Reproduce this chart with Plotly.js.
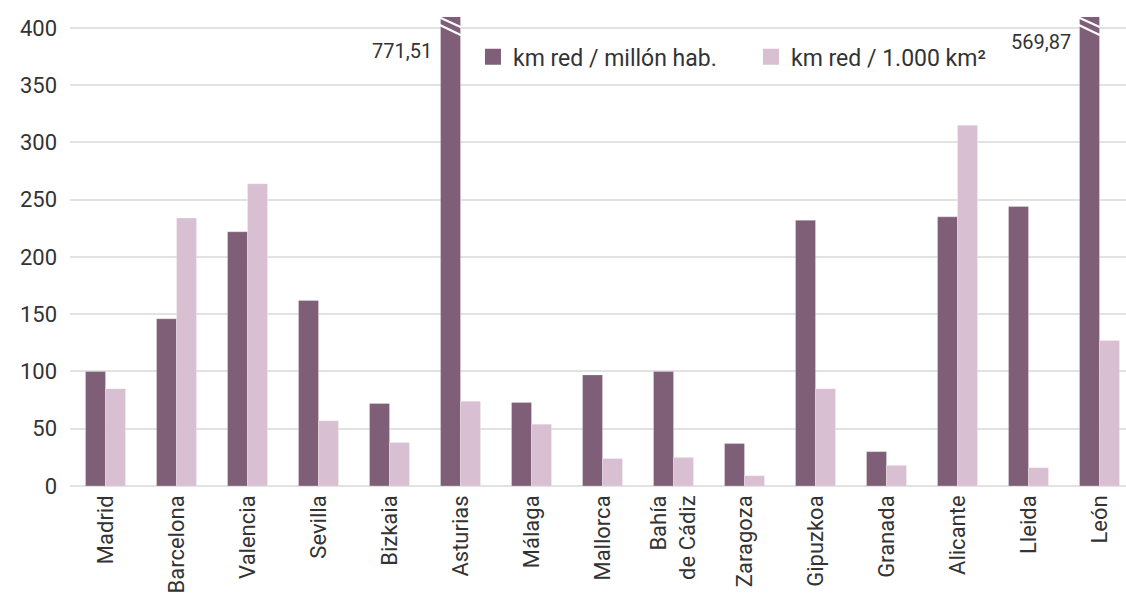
<!DOCTYPE html>
<html>
<head>
<meta charset="utf-8">
<script src="https://cdn.plot.ly/plotly-3.0.1.min.js"></script>
<style>html,body{margin:0;padding:0;background:#fff;}#chart{width:1126px;height:604px;}</style>
</head>
<body>
<div id="chart"></div>
<script>
const categories = ["Madrid","Barcelona","Valencia","Sevilla","Bizkaia","Asturias","Málaga","Mallorca","Bahía<br>de Cádiz","Zaragoza","Gipuzkoa","Granada","Alicante","Lleida","León"];
const kmPorMillonHab = [100, 146, 222, 162, 72, 771.51, 73, 97, 100, 37, 232, 30, 235, 244, 569.87];
const kmPor1000km2 = [85, 234, 264, 57, 38, 74, 54, 24, 25, 9, 85, 18, 315, 16, 127];
const seriesNames = ["km red / millón hab.", "km red / 1.000 km²"];
const brokenLabels = ["771,51", "569,87"];
const yTicks = [0, 50, 100, 150, 200, 250, 300, 350, 400];
const yMax = 409.5;

const purple = "#7f5f78";
const pink = "#d9bfd2";
const bargap = 0.437;
const xIdx = categories.map((c, i) => i);
const FONT = "Roboto, sans-serif";

const traces = [
  {type: "bar", x: xIdx, y: kmPorMillonHab, name: seriesNames[0], marker: {color: purple, line: {color: "rgba(255,255,255,0.5)", width: 0.5}}, showlegend: false, hoverinfo: "y"},
  {type: "bar", x: xIdx, y: kmPor1000km2, name: seriesNames[1], marker: {color: pink, line: {color: "rgba(255,255,255,0.5)", width: 0.5}}, showlegend: false, hoverinfo: "y"},
  {type: "scatter", mode: "markers", x: [null], y: [null], name: seriesNames[0], marker: {symbol: "square", size: 16, color: purple}},
  {type: "scatter", mode: "markers", x: [null], y: [null], name: seriesNames[1], marker: {symbol: "square", size: 16, color: pink}}
];

const shapes = [];
const annotations = [];
const halfGroup = (1 - bargap) / 2;
let b = 0;
kmPorMillonHab.forEach((v, i) => {
  if (v > yMax) {
    const x0 = i - halfGroup - 0.01, x1 = i + 0.01;
    shapes.push({type: "line", xref: "x", yref: "y", x0: x0, x1: x1, y0: 409, y1: 400.5, line: {color: "#fff", width: 2.2}});
    shapes.push({type: "line", xref: "x", yref: "y", x0: x0, x1: x1, y0: 402.5, y1: 393.5, line: {color: "#fff", width: 2.2}});
    annotations.push({xref: "x", yref: "y", x: i - halfGroup - 0.09, y: b === 0 ? 380 : 388, text: brokenLabels[b], showarrow: false, xanchor: "right", yanchor: "middle", font: {family: FONT, size: 20, color: "#333"}});
    b++;
  }
});

const layout = {
  width: 1126, height: 604,
  margin: {l: 70, r: 0, t: 17, b: 118, pad: 0},
  paper_bgcolor: "#fff", plot_bgcolor: "#fff",
  font: {family: FONT, size: 20, color: "#333"},
  barmode: "group", bargap: bargap, bargroupgap: 0,
  xaxis: {
    type: "linear",
    range: [-0.5, -0.5 + 1056 / 71],
    tickvals: xIdx, ticktext: categories,
    tickangle: -90, showgrid: false, zeroline: false, showline: false, ticks: "",
    tickfont: {family: FONT, size: 22, color: "#333"},
    ticklabelstandoff: 4
  },
  yaxis: {
    range: [0, yMax], tickvals: yTicks,
    showgrid: true, gridcolor: "#e2e2e2", gridwidth: 2,
    zeroline: true, zerolinecolor: "#e2e2e2", zerolinewidth: 2,
    showline: false, ticks: "",
    tickfont: {family: FONT, size: 22, color: "#333"},
    ticklabelstandoff: 12
  },
  legend: {
    orientation: "h", x: 0.3816, y: 0.915, xanchor: "left", yanchor: "middle",
    bgcolor: "rgba(255,255,255,0)", font: {family: FONT, size: 23, color: "#333"},
    itemwidth: 30, tracegroupgap: 0, entrywidth: 233
  },
  shapes: shapes,
  annotations: annotations
};

Plotly.newPlot("chart", traces, layout, {displayModeBar: false, staticPlot: true});
</script>
</body>
</html>
